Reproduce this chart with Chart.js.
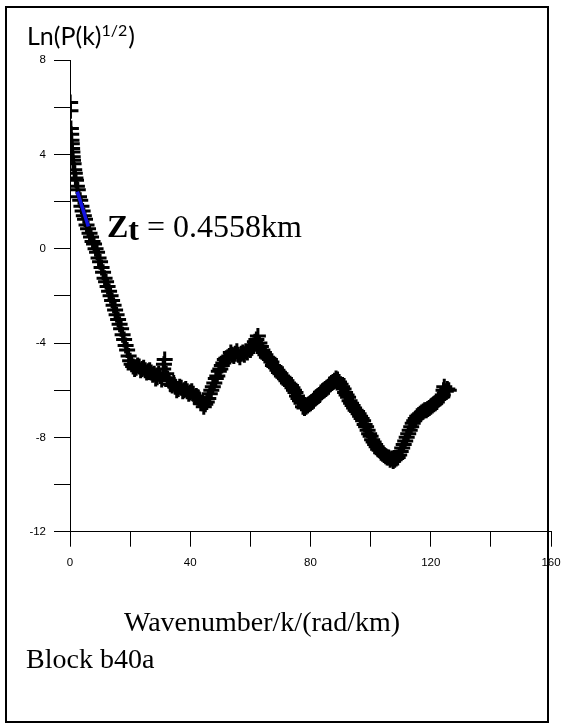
<!DOCTYPE html>
<html>
<head>
<meta charset="utf-8">
<script src="https://cdn.jsdelivr.net/npm/chart.js@4"></script>
<style>
  html, body { margin: 0; padding: 0; background: #fff; }
  canvas { display: block; }
</style>
</head>
<body>
<canvas id="spectrum" width="564" height="728"></canvas>
<script>
// wavenumber k (rad/km) and Ln(P(k)^1/2)
const wavenumber = [
  0.05, 0.15, 0.3, 0.4, 0.5, 0.6, 0.7, 0.8, 0.9, 1.0, 1.2, 1.4, 1.6, 1.8, 2.0, 2.3, 2.6,
  3.0, 3.4, 3.8, 4.2, 4.6, 5.0, 5.5, 6.0, 6.5, 7.0, 7.5, 8.0, 8.5, 9.0, 9.5, 10, 10.5,
  11, 11.5, 12, 12.5, 13, 13.5, 14, 14.5, 15, 15.5, 16, 16.5, 17, 17.5, 18, 18.5, 19,
  19.5, 20, 20.5, 21, 21.5, 22, 22.5, 23, 23.5, 24, 24.5, 25, 25.5, 26, 26.5, 27, 27.5,
  28, 28.5, 29, 29.5, 30, 30.5, 31, 31.25, 31.5, 32, 32.5, 33, 33.5, 34, 34.5, 35, 35.5, 36,
  36.5, 37, 37.5, 38, 38.5, 39, 39.5, 40, 40.5, 41, 41.5, 42, 42.5, 43, 43.5, 44, 44.5,
  45, 45.5, 46, 46.5, 47, 47.5, 48, 48.5, 49, 49.5, 50, 50.5, 51, 51.5, 52, 52.5, 53,
  53.5, 54, 54.5, 55, 55.5, 56, 56.5, 57, 57.5, 58, 58.5, 59, 59.5, 60, 60.5, 61, 61.5,
  62, 62.5, 63, 63.5, 64, 64.5, 65, 65.5, 66, 66.5, 67, 67.5, 68, 68.5, 69, 69.5, 70,
  70.5, 71, 71.5, 72, 72.5, 73, 73.5, 74, 74.5, 75, 75.5, 76, 76.5, 77, 77.5, 78, 78.5,
  79, 79.5, 80, 80.5, 81, 81.5, 82, 82.5, 83, 83.5, 84, 84.5, 85, 85.5, 86, 86.5, 87,
  87.5, 88, 88.5, 89, 89.5, 90, 90.5, 91, 91.5, 92, 92.5, 93, 93.5, 94, 94.5, 95, 95.5,
  96, 96.5, 97, 97.5, 98, 98.5, 99, 99.5, 100, 100.5, 101, 101.5, 102, 102.5, 103, 103.5,
  104, 104.5, 105, 105.5, 106, 106.5, 107, 107.5, 108, 108.5, 109, 109.5, 110, 110.5,
  111, 111.5, 112, 112.5, 113, 113.5, 114, 114.5, 115, 115.5, 116, 116.5, 117, 117.5,
  118, 118.5, 119, 119.5, 120, 120.5, 121, 121.5, 122, 122.5, 123, 123.5, 124, 124.25, 124.5,
  125, 125.5, 126
];
const lnPower = [
  6.2, 5.85, 5.1, 4.85, 4.6, 4.45, 4.25, 4.1, 3.9, 3.75, 3.6, 3.35, 3.2, 3.0, 2.9, 2.65, 2.5,
  2.2, 2.05, 1.8, 1.6, 1.4, 1.25, 1.0, 0.85, 0.65, 0.5, 0.3, 0.2, 0.0, -0.15, -0.4, -0.55, -0.8,
  -1.0, -1.25, -1.4, -1.6, -1.8, -2.0, -2.2, -2.4, -2.6, -2.8, -3.0, -3.2, -3.4, -3.65, -3.85, -4.1, -4.3,
  -4.55, -4.75, -4.9, -5.0, -5.1, -5.05, -4.95, -5.0, -5.15, -5.1, -5.05, -5.15, -5.25, -5.2, -5.15, -5.25, -5.35,
  -5.3, -5.5, -5.45, -5.3, -5.4, -5.55, -5.1, -4.9, -4.7, -5.3, -5.5, -5.6, -5.75, -5.8, -5.7, -5.85, -6.0, -5.95,
  -5.85, -5.9, -6.05, -6.0, -5.95, -6.05, -6.15, -6.1, -6.05, -6.15, -6.3, -6.25, -6.3, -6.4, -6.55, -6.55, -6.7,
  -6.6, -6.5, -6.35, -6.15, -6.0, -5.85, -5.7, -5.5, -5.4, -5.2, -5.1, -4.95, -4.85, -4.7, -4.65, -4.6, -4.55,
  -4.4, -4.5, -4.55, -4.45, -4.35, -4.5, -4.6, -4.45, -4.4, -4.5, -4.35, -4.4, -4.25, -4.3, -4.2, -4.1, -3.95,
  -3.85, -3.7, -4.0, -4.15, -4.3, -4.4, -4.5, -4.6, -4.65, -4.7, -4.8, -4.95, -5.0, -5.05, -5.15, -5.25, -5.3,
  -5.4, -5.45, -5.5, -5.6, -5.7, -5.75, -5.8, -5.9, -6.0, -6.1, -6.25, -6.35, -6.45, -6.55, -6.7, -6.75, -6.7,
  -6.65, -6.6, -6.55, -6.5, -6.45, -6.35, -6.3, -6.25, -6.2, -6.1, -6.05, -6.0, -5.95, -5.9, -5.85, -5.75, -5.7,
  -5.65, -5.6, -5.5, -5.55, -5.65, -5.75, -5.85, -5.95, -6.1, -6.2, -6.3, -6.45, -6.55, -6.65, -6.75, -6.85, -6.9,
  -7.0, -7.1, -7.2, -7.3, -7.45, -7.55, -7.7, -7.85, -7.95, -8.1, -8.2, -8.3, -8.4, -8.5, -8.55, -8.65,
  -8.7, -8.75, -8.8, -8.85, -8.85, -8.95, -8.9, -9.0, -8.95, -8.9, -8.85, -8.75, -8.6, -8.45,
  -8.3, -8.15, -8.0, -7.85, -7.7, -7.55, -7.4, -7.3, -7.2, -7.1, -7.05, -7.0, -6.95, -6.9,
  -6.85, -6.85, -6.8, -6.75, -6.7, -6.65, -6.6, -6.55, -6.5, -6.4, -6.35, -6.3, -6.2, -6.0, -5.85,
  -6.05, -5.95, -6.0
];

// straight-line fit used for the depth estimate (blue)
const fitK = [2.43, 6.09];
const fitLn = [2.42, 0.94];

const xLabelled = [0, 40, 80, 120, 160];
const yLabelled = [8, 4, 0, -4, -8, -12];

const annotations = {
  id: 'annotations',
  afterDraw(chart) {
    const ctx = chart.ctx;
    ctx.save();
    ctx.fillStyle = '#000';
    ctx.textBaseline = 'alphabetic';
    ctx.textAlign = 'left';

    // frame round the figure
    ctx.strokeStyle = '#000';
    ctx.lineWidth = 2;
    ctx.strokeRect(6, 7, 542, 715);

    // y axis title Ln(P(k)^1/2)
    let x = 27;
    ctx.font = '25px Lato';
    ctx.fillText('Ln(P(k)', x, 45);
    x += ctx.measureText('Ln(P(k)').width;
    ctx.font = '16px Lato';
    ctx.fillText('1/2', x, 36);
    x += ctx.measureText('1/2').width + 1;
    ctx.font = '25px Lato';
    ctx.fillText(')', x, 45);

    // depth label
    x = 107;
    ctx.font = 'bold 32px "Liberation Serif"';
    ctx.fillText('Z', x, 237);
    x += ctx.measureText('Z').width;
    ctx.fillText('t', x, 240);
    x += ctx.measureText('t').width;
    ctx.font = '32px "Liberation Serif"';
    ctx.fillText(' = 0.4558km', x, 237);

    // x axis title and block name
    ctx.font = '28px "Liberation Serif"';
    ctx.fillText('Wavenumber/k/(rad/km)', 124, 631);
    ctx.fillText('Block b40a', 26, 668);
    ctx.restore();
  }
};

const tickFont = { family: '"Liberation Sans", Arial, sans-serif', size: 11.5 };

const ctx = document.getElementById('spectrum').getContext('2d');
const chart = new Chart(ctx, {
  type: 'scatter',
  data: {
    datasets: [
      {
        label: 'fit',
        data: fitK.map((k, i) => ({ x: k, y: fitLn[i] })),
        showLine: true,
        borderColor: '#1414e0',
        borderWidth: 3.5,
        pointRadius: 0,
        order: 0
      },
      {
        label: 'spectrum',
        data: wavenumber.map((k, i) => ({ x: k, y: lnPower[i] })),
        pointStyle: 'cross',
        pointRadius: 8,
        pointBorderWidth: 3,
        pointBorderColor: '#000',
        pointBackgroundColor: '#000',
        order: 1
      }
    ]
  },
  options: {
    responsive: false,
    animation: false,
    layout: { padding: { left: 0, top: 60, right: 13, bottom: 156.3 } },
    plugins: {
      legend: { display: false },
      tooltip: { enabled: false }
    },
    scales: {
      x: {
        type: 'linear',
        min: 0,
        max: 160,
        afterFit: (scale) => {
          scale.height = 40;
          scale.paddingLeft = 0;
          scale.paddingRight = 0;
        },
        ticks: {
          stepSize: 20,
          color: '#000',
          font: tickFont,
          padding: 9,
          maxRotation: 0,
          autoSkip: false,
          callback: (v) => xLabelled.includes(v) ? String(v) : ''
        },
        grid: { drawOnChartArea: false, drawTicks: true, tickLength: 15, color: '#000', tickColor: '#000', lineWidth: 1 },
        border: { display: true, color: '#000', width: 1 }
      },
      y: {
        type: 'linear',
        min: -12,
        max: 8,
        afterFit: (scale) => { scale.width = 70; },
        ticks: {
          stepSize: 2,
          color: '#000',
          font: tickFont,
          padding: 8,
          autoSkip: false,
          callback: (v) => yLabelled.includes(v) ? String(v) : ''
        },
        grid: { drawOnChartArea: false, drawTicks: true, tickLength: 16, color: '#000', tickColor: '#000', lineWidth: 1 },
        border: { display: true, color: '#000', width: 1 }
      }
    }
  },
  plugins: [annotations]
});
</script>
</body>
</html>
